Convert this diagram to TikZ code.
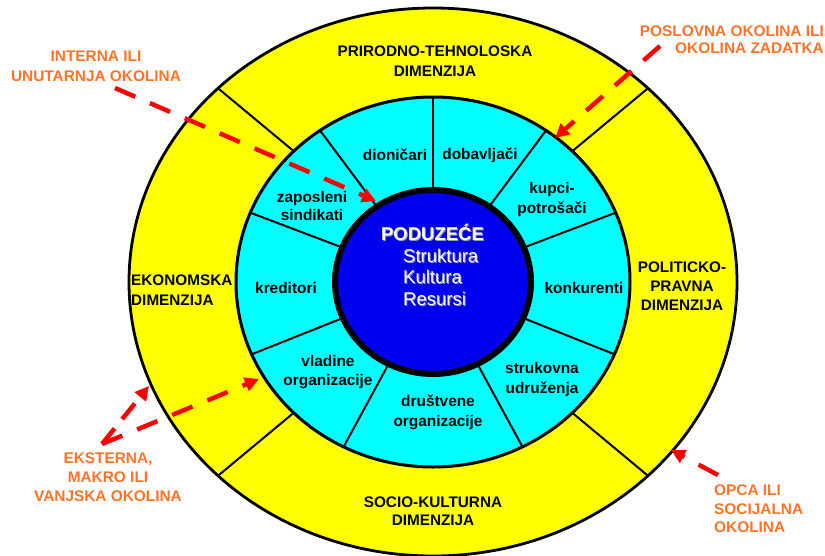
\documentclass[tikz,border=0pt]{standalone}
\usepackage{fontspec}
\setmainfont{Liberation Sans}
\usetikzlibrary{arrows.meta}
\definecolor{ringyellow}{RGB}{255,255,0}
\definecolor{ringcyan}{RGB}{0,255,255}
\definecolor{coreblue}{RGB}{0,0,240}
\definecolor{labelorange}{RGB}{255,115,40}
\definecolor{arrowred}{RGB}{255,0,0}
\definecolor{shadowgray}{RGB}{150,150,170}
\begin{document}
\begin{tikzpicture}[x=1pt,y=-1pt,
  dimlabel/.style={font=\bfseries\fontsize{15.3}{20}\selectfont, align=center, inner sep=0pt},
  seglabel/.style={font=\bfseries\fontsize{15.4}{19}\selectfont, align=center, inner sep=0pt},
  envlabel/.style={text=labelorange, font=\bfseries\fontsize{15.4}{19}\selectfont, inner sep=0pt},
  envarrow/.style={draw=arrowred, line width=4.5pt, dash pattern=on 22pt off 16pt, -{Triangle[length=14pt,width=14pt]}},
  corebold/.style={font=\bfseries\fontsize{18.5}{21.5}\selectfont, inner sep=0pt},
  coreplain/.style={font=\fontsize{18.5}{21.5}\selectfont, align=left, inner sep=0pt},
  divider/.style={draw=black, line width=2pt}
]
\useasboundingbox (0,0) rectangle (825,555);
% rings
\coordinate (c) at (433,282);
\fill[ringyellow, draw=black, line width=2.8pt] (c) ellipse [x radius=304, y radius=274];
\foreach \a in {45,135,225,315}
  \draw[divider] ({433+197*cos(\a)},{282-185*sin(\a)}) -- ({433+304*cos(\a)},{282-274*sin(\a)});
\fill[ringcyan, draw=black, line width=3pt] (c) ellipse [x radius=197, y radius=185];
\foreach \a in {90,55,22,-23,-63,-117,-157,158,125}
  \draw[divider] ({433+101*cos(\a)},{282-95*sin(\a)}) -- ({433+197*cos(\a)},{282-185*sin(\a)});
\fill[coreblue, draw=black, line width=6pt] (c) ellipse [x radius=98, y radius=92];

% dimension labels
\node[dimlabel] (prirodna) at (435,61) {PRIRODNO-TEHNOLOSKA\\DIMENZIJA};
\node[dimlabel, font=\bfseries\fontsize{15.3}{18}\selectfont] (socio) at (433,511) {SOCIO-KULTURNA\\DIMENZIJA};
\node[dimlabel, font=\bfseries\fontsize{15.3}{19}\selectfont] (politicka) at (682,286) {POLITICKO-\\PRAVNA\\DIMENZIJA};
\node[dimlabel, align=left, anchor=west] (ekonomska) at (131,290) {EKONOMSKA\\DIMENZIJA};

% segment labels
\node[seglabel] (dionicari) at (395,155) {dioničari};
\node[seglabel] (dobavljaci) at (480,155) {dobavljači};
\node[seglabel, font=\bfseries\fontsize{15.4}{20}\selectfont] (kupci) at (552,200) {kupci-\\potrošači};
\node[seglabel] (konkurenti) at (584,288) {konkurenti};
\node[seglabel, font=\bfseries\fontsize{15.4}{20}\selectfont] (strukovna) at (542,380) {strukovna\\udruženja};
\node[seglabel, font=\bfseries\fontsize{15.4}{20}\selectfont] (drustvene) at (438,412) {društvene\\organizacije};
\node[seglabel] (vladine) at (328,372) {vladine\\organizacije};
\node[seglabel] (kreditori) at (286,288) {kreditori};
\node[seglabel, font=\bfseries\fontsize{15.4}{17.5}\selectfont] (zaposleni) at (312,206) {zaposleni\\sindikati};

% core
\node[corebold, text=shadowgray] at (433.5,233.5) {PODUZEĆE};
\node[corebold, text=white] (poduzece) at (432.5,232.5) {PODUZEĆE};
\node[coreplain, text=shadowgray, anchor=west] at (404,278) {Struktura\\Kultura\\Resursi};
\node[coreplain, text=white, anchor=west] (resursi) at (403,277) {Struktura\\Kultura\\Resursi};

% environment labels
\node[envlabel, align=center, font=\bfseries\fontsize{15.4}{20}\selectfont] (interna) at (96,66) {INTERNA ILI\\UNUTARNJA OKOLINA};
\node[envlabel, align=right, anchor=east, font=\bfseries\fontsize{15.4}{17}\selectfont] (poslovna) at (824,40) {POSLOVNA OKOLINA ILI\\OKOLINA ZADATKA};
\node[envlabel, align=center] (eksterna) at (108,477) {EKSTERNA,\\MAKRO ILI\\VANJSKA OKOLINA};
\node[envlabel, align=left, anchor=west, font=\bfseries\fontsize{15.4}{18.5}\selectfont] (opca) at (714,509) {OPCA ILI\\SOCIJALNA\\OKOLINA};

% arrows
\coordinate (a1s) at (115,88);
\coordinate (a1e) at (376,201);
\coordinate (a2s) at (660,46);
\coordinate (a2e) at (555,138);
\coordinate (a3s) at (102,444);
\coordinate (a3e) at (149,386);
\coordinate (a4e) at (259,379);
\coordinate (a5s) at (718,475);
\coordinate (a5e) at (671,450);
\draw[envarrow] (a1s) -- (a1e);
\draw[envarrow] (a2s) -- (a2e);
\draw[envarrow, dash pattern=on 20pt off 12pt] (a3s) -- (a3e);
\draw[envarrow] (a3s) -- (a4e);
\draw[envarrow] (a5s) -- (a5e);
\end{tikzpicture}
\end{document}
